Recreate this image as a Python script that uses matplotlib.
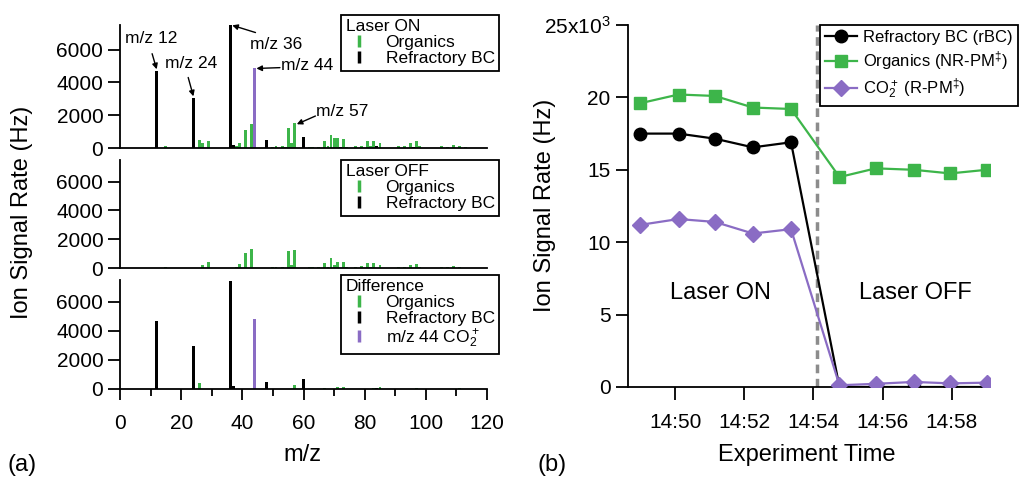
import matplotlib
matplotlib.use("Agg")
import matplotlib.pyplot as plt
from matplotlib.lines import Line2D
from matplotlib.ticker import FixedLocator

plt.rcParams["font.family"] = ["Liberation Sans", "DejaVu Sans"]
plt.rcParams["mathtext.fontset"] = "custom"
plt.rcParams["mathtext.rm"] = "Liberation Sans"
plt.rcParams["mathtext.it"] = "Liberation Sans:italic"
plt.rcParams["axes.linewidth"] = 1.3

GREEN = "#3db54a"
PURPLE = "#8a6cc4"
BLACK = "black"

# ---- (a) mass spectra ----
# Laser ON
on_org_mz = [15, 26, 27, 29, 38, 39, 41, 43, 50, 51, 53, 54, 55, 56, 57, 62, 63, 65, 67, 68, 69, 70, 71, 73, 74,
             77, 79, 81, 82, 83, 85, 91, 93, 95, 97, 98, 105, 107, 109, 111, 113]
on_org_val = [100, 500, 300, 420, 120, 300, 1100, 1450, 80, 100, 120, 60, 1220, 300, 1530, 50, 50, 80, 400, 150,
              800, 600, 620, 540, 80, 120, 150, 450, 120, 400, 300, 120, 100, 290, 400, 100, 100, 80, 180, 150, 50]
on_bc_mz = [12, 24, 36, 37, 48, 60, 72, 84, 96]
on_bc_val = [4680, 3050, 7500, 200, 500, 650, 60, 100, 50]
on_co2_mz = [44]
on_co2_val = [4850]

# Laser OFF
off_org_mz = [12, 15, 27, 29, 38, 39, 41, 43, 50, 51, 53, 55, 56, 57, 62, 63, 65, 67, 68, 69, 70, 71, 73, 74,
              77, 79, 81, 82, 83, 85, 91, 93, 95, 97, 98, 105, 107, 109, 111]
off_org_val = [30, 100, 230, 400, 80, 300, 1070, 1350, 60, 80, 100, 1200, 200, 1250, 40, 40, 60, 350, 100, 700,
               200, 450, 400, 60, 100, 120, 350, 100, 350, 200, 100, 80, 200, 280, 80, 80, 60, 120, 100]

# Difference
diff_org_mz = [26, 57, 67, 71, 73, 83, 85, 97, 111]
diff_org_val = [430, 250, 80, 150, 150, 80, 120, 100, 80]
diff_bc_mz = [12, 24, 36, 37, 48, 60, 84]
diff_bc_val = [4650, 2980, 7450, 200, 500, 680, 80]
diff_co2_mz = [44]
diff_co2_val = [4830]

# ---- (b) time series ----
time_min = [49.0, 50.1, 51.15, 52.25, 53.35, 54.75, 55.8, 56.9, 57.95, 59.0]  # minutes after 14:00
rbc = [17500, 17500, 17150, 16550, 16900, 0, 0, 0, 0, 0]
organics = [19600, 20200, 20100, 19300, 19200, 14500, 15100, 15000, 14750, 15000]
co2 = [11200, 11600, 11400, 10600, 10900, 120, 220, 350, 250, 300]
time_ticks = [50, 52, 54, 56, 58]
time_labels = ["14:50", "14:52", "14:54", "14:56", "14:58"]
laser_switch = 54.1

W, H = 1019, 480
fig = plt.figure(figsize=(W / 100, H / 100), dpi=100)


def fx(px):
    return px / W


def fy(py):
    return 1 - py / H


def spec_axes(top, bottom):
    ax = fig.add_axes([fx(120), fy(bottom), fx(487) - fx(120), (bottom - top) / H])
    ax.set_xlim(0, 120)
    ax.set_ylim(0, 7500)
    ax.spines["top"].set_visible(False)
    ax.spines["right"].set_visible(False)
    ax.set_yticks([0, 2000, 4000, 6000])
    ax.tick_params(axis="y", direction="out", length=9, width=1.3, labelsize=15, pad=3)
    return ax


ax1 = spec_axes(25, 148)
ax2 = spec_axes(160, 268)
ax3 = spec_axes(280, 389)

bw = 0.95
ax1.bar(on_org_mz, on_org_val, width=bw, color=GREEN)
ax1.bar(on_bc_mz, on_bc_val, width=bw, color=BLACK)
ax1.bar(on_co2_mz, on_co2_val, width=bw, color=PURPLE)
ax2.bar(off_org_mz, off_org_val, width=bw, color=GREEN)
ax3.bar(diff_org_mz, diff_org_val, width=bw, color=GREEN)
ax3.bar(diff_bc_mz, diff_bc_val, width=bw, color=BLACK)
ax3.bar(diff_co2_mz, diff_co2_val, width=bw, color=PURPLE)

for ax in (ax1, ax2):
    ax.tick_params(axis="x", bottom=False, labelbottom=False)

ax3.set_xticks([0, 20, 40, 60, 80, 100, 120])
ax3.xaxis.set_minor_locator(FixedLocator([10, 30, 50, 70, 90, 110]))
ax3.tick_params(axis="x", which="major", direction="out", length=8, width=1.3, labelsize=15, pad=10)
ax3.tick_params(axis="x", which="minor", direction="out", length=5, width=1.3)

# peak annotations
arw = dict(arrowstyle="-|>", color="black", lw=1, mutation_scale=8, shrinkA=0, shrinkB=0)
ax1.text(1.5, 6700, "m/z 12", fontsize=12.5, va="center", ha="left")
ax1.annotate("", xy=(12, 4800), xytext=(10.5, 5750), arrowprops=arw)
ax1.text(14.6, 5150, "m/z 24", fontsize=12.5, va="center", ha="left")
ax1.annotate("", xy=(24, 3150), xytext=(22.3, 4300), arrowprops=arw)
ax1.text(42.5, 6300, "m/z 36", fontsize=12.5, va="center", ha="left")
ax1.annotate("", xy=(36.7, 7480), xytext=(44.3, 7040), arrowprops=arw)
ax1.text(52.5, 5020, "m/z 44", fontsize=12.5, va="center", ha="left")
ax1.annotate("", xy=(44.6, 4850), xytext=(52.3, 4900), arrowprops=arw)
ax1.text(64.2, 2200, "m/z 57", fontsize=12.5, va="center", ha="left")
ax1.annotate("", xy=(57.8, 1450), xytext=(63.9, 1950), arrowprops=arw)


def bar_handle(c):
    return Line2D([], [], marker="|", color=c, ls="none", markersize=9, markeredgewidth=2.5)


def spec_legend(ax, title, handles, labels, top_px):
    leg = ax.legend(handles, labels, title=title, loc="upper right",
                    bbox_to_anchor=(fx(499), fy(top_px)), bbox_transform=fig.transFigure,
                    fontsize=12.5, title_fontsize=12.5, fancybox=False, edgecolor="black", framealpha=1,
                    borderpad=0.25, labelspacing=0.05, handlelength=1.6, handletextpad=0.7,
                    borderaxespad=0, alignment="left")
    leg.get_frame().set_linewidth(1.3)
    return leg


spec_legend(ax1, "Laser ON", [bar_handle(GREEN), bar_handle(BLACK)], ["Organics", "Refractory BC"], 15)
spec_legend(ax2, "Laser OFF", [bar_handle(GREEN), bar_handle(BLACK)], ["Organics", "Refractory BC"], 160)
spec_legend(ax3, "Difference", [bar_handle(GREEN), bar_handle(BLACK), bar_handle(PURPLE)],
            ["Organics", "Refractory BC", "m/z 44 CO$_2^+$"], 275)

fig.text(fx(302), fy(455), "m/z", fontsize=17, ha="center", va="center")
fig.text(fx(22), fy(212), "Ion Signal Rate (Hz)", fontsize=17, ha="center", va="center", rotation=90)
fig.text(fx(22), fy(465), "(a)", fontsize=17, ha="center", va="center")

# ---- (b) ----
axb = fig.add_axes([fx(628), fy(387), fx(990) - fx(628), (387 - 25) / H])
axb.set_xlim(48.64, 59.1)
axb.set_ylim(0, 25000)
axb.spines["top"].set_visible(False)
axb.spines["right"].set_visible(False)

axb.axvline(laser_switch, color="#8c8c8c", lw=2.5, ls=(0, (2.5, 1.6)), zorder=1)
l_bc, = axb.plot(time_min, rbc, color=BLACK, lw=1.6, marker="o", markersize=9, zorder=3)
l_org, = axb.plot(time_min, organics, color=GREEN, lw=1.6, marker="s", markersize=9, zorder=3)
l_co2, = axb.plot(time_min, co2, color=PURPLE, lw=1.6, marker="D", markersize=8, zorder=4)

axb.set_yticks([0, 5000, 10000, 15000, 20000, 25000])
axb.set_yticklabels(["0", "5", "10", "15", "20", "25x10$^3$"])
axb.set_xticks(time_ticks)
axb.set_xticklabels(time_labels)
axb.tick_params(axis="both", direction="out", length=9, width=1.3, labelsize=15)
axb.tick_params(axis="x", pad=10)

axb.text(51.3, 6500, "Laser ON", fontsize=17, ha="center", va="center")
axb.text(56.95, 6500, "Laser OFF", fontsize=17, ha="center", va="center")

legb = axb.legend([l_bc, l_org, l_co2],
                  ["Refractory BC (rBC)", "Organics (NR-PM$^{\\ddag}$)", "CO$_2^+$ (R-PM$^{\\ddag}$)"],
                  loc="upper right", bbox_to_anchor=(fx(1018), fy(25)), bbox_transform=fig.transFigure,
                  fontsize=12, fancybox=False, edgecolor="black", framealpha=1, borderpad=0.3,
                  labelspacing=0.25, handlelength=1.9, handletextpad=0.4, borderaxespad=0)
legb.get_frame().set_linewidth(1.3)

fig.text(fx(807), fy(455), "Experiment Time", fontsize=17, ha="center", va="center")
fig.text(fx(545), fy(205), "Ion Signal Rate (Hz)", fontsize=17, ha="center", va="center", rotation=90)
fig.text(fx(552), fy(465), "(b)", fontsize=17, ha="center", va="center")

fig.savefig("out.png", dpi=100)
